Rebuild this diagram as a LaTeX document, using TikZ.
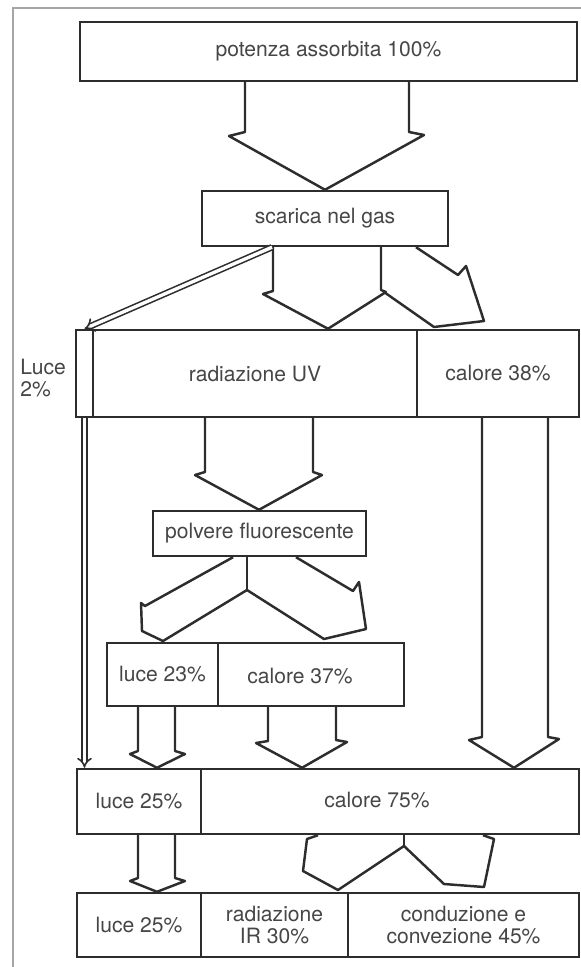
\documentclass[tikz,border=0pt]{standalone}
\usepackage{fontspec}
\setmainfont{TeX Gyre Heros}
\usetikzlibrary{arrows.meta}
\definecolor{ink}{RGB}{45,45,45}
\definecolor{txtgray}{RGB}{70,70,70}
\tikzset{
  box/.style={draw=ink, line width=1.4pt, inner sep=0pt, font=\fontsize{12}{13}\selectfont, text=txtgray, align=center},
  txt/.style={inner sep=0pt, font=\fontsize{12}{13}\selectfont, text=txtgray, align=center},
  blk/.style={draw=ink, line width=1.4pt, line join=round},
  thinflow/.style={draw=ink, line width=0.9pt, double=white, double distance=1.9pt},
}
\begin{document}
\begin{tikzpicture}[x=0.02cm, y=-0.02cm]
    \useasboundingbox (0,0) rectangle (581,967);
    \draw[gray!70, line width=0.7pt] (13,967) -- (13,8) -- (581,8);

    \node[box, minimum width=497*0.02cm, minimum height=59*0.02cm] (pot) at (328.5,51.5) {potenza assorbita 100\%};
    \node[box, minimum width=246*0.02cm, minimum height=55*0.02cm] (gas) at (325,218.5) {scarica nel gas};
    \node[box, minimum width=17*0.02cm, minimum height=87*0.02cm] (l2) at (84.5,373.5) {};
    \node[txt, anchor=west, align=left] (l2t) at (20,378) {Luce\\2\%};
    \node[box, minimum width=324*0.02cm, minimum height=87*0.02cm] (uv) at (255,373.5) {radiazione UV};
    \node[box, minimum width=162*0.02cm, minimum height=87*0.02cm] (c38) at (498,373.5) {calore 38\%};
    \node[box, minimum width=213*0.02cm, minimum height=45*0.02cm] (pol) at (259.5,533.5) {polvere fluorescente};
    \node[box, minimum width=111*0.02cm, minimum height=63*0.02cm] (l23) at (162.5,674.5) {luce 23\%};
    \node[box, minimum width=186*0.02cm, minimum height=63*0.02cm] (c37) at (311,674.5) {};
    \node[txt] (c37t) at (300,676) {calore 37\%};
    \node[box, minimum width=124*0.02cm, minimum height=65*0.02cm] (l25) at (139,801.5) {luce 25\%};
    \node[box, minimum width=378*0.02cm, minimum height=65*0.02cm] (c75) at (390,801.5) {};
    \node[txt] (c75t) at (377,800) {calore 75\%};
    \node[box, minimum width=124*0.02cm, minimum height=64*0.02cm] (l25b) at (139,925) {luce 25\%};
    \node[box, minimum width=147*0.02cm, minimum height=64*0.02cm] (ir) at (274.5,925) {radiazione\\IR 30\%};
    \node[box, minimum width=231*0.02cm, minimum height=64*0.02cm] (cc) at (463.5,925) {conduzione e\\convezione 45\%};

    \draw[blk] (245,0 |- pot.south) -- (245,132) -- (229,136) -- (325,0 |- gas.north) -- (424,135) -- (409,132) -- (409,0 |- pot.south);
    \draw[blk] (273,0 |- gas.south) -- (273,291) -- (263,294) -- (328,0 |- uv.north) -- (386,292) -- (381,290) -- (381,0 |- gas.south);
    \draw[blk] (416,0 |- gas.south) -- (458,275) -- (466,266) -- (484,321) -- (434,327) -- (384,292);
    \draw[thinflow, -{Implies}] (272,0 |- gas.south) -- (l2.north);
    \draw[thinflow, -{Implies}] (l2.south) -- (l2.south |- l25.north);
    \draw[blk] (205,0 |- uv.south) -- (205,472) -- (195,475) -- (259,0 |- pol.north) -- (322,475) -- (313,472) -- (313,0 |- uv.south);
    \draw[blk] (233,0 |- pol.south) -- (145,606) -- (141,603) -- (142,631) -- (163,641) -- (247,590) -- (324,639) -- (366,629) -- (359,582) -- (353,591) -- (296,0 |- pol.south);
    \draw[blk] (247,0 |- pol.south) -- (247,590);
    \draw[blk] (138,0 |- l23.south) -- (138,751) -- (130,754) -- (157,0 |- l25.north) -- (185,754) -- (175,751) -- (175,0 |- l23.south);
    \draw[blk] (268,0 |- c37.south) -- (268,741) -- (256,743) -- (302,0 |- c75.north) -- (347,742) -- (336,740) -- (336,0 |- c37.south);
    \draw[blk] (482,0 |- c38.south) -- (482,737) -- (469,740) -- (514,0 |- c75.north) -- (559,739) -- (548,737) -- (548,0 |- c38.south);
    \draw[blk] (138,0 |- l25.south) -- (138,878) -- (130,881) -- (157,0 |- l25b.north) -- (185,881) -- (175,878) -- (175,0 |- l25.south);
    \draw[blk] (318,0 |- c75.south) -- (307,839) -- (303,871) -- (338,890) -- (404,846) -- (444,884) -- (484,887) -- (494,839) -- (483,0 |- c75.south);
    \draw[blk] (404,0 |- c75.south) -- (404,846);
\end{tikzpicture}
\end{document}
